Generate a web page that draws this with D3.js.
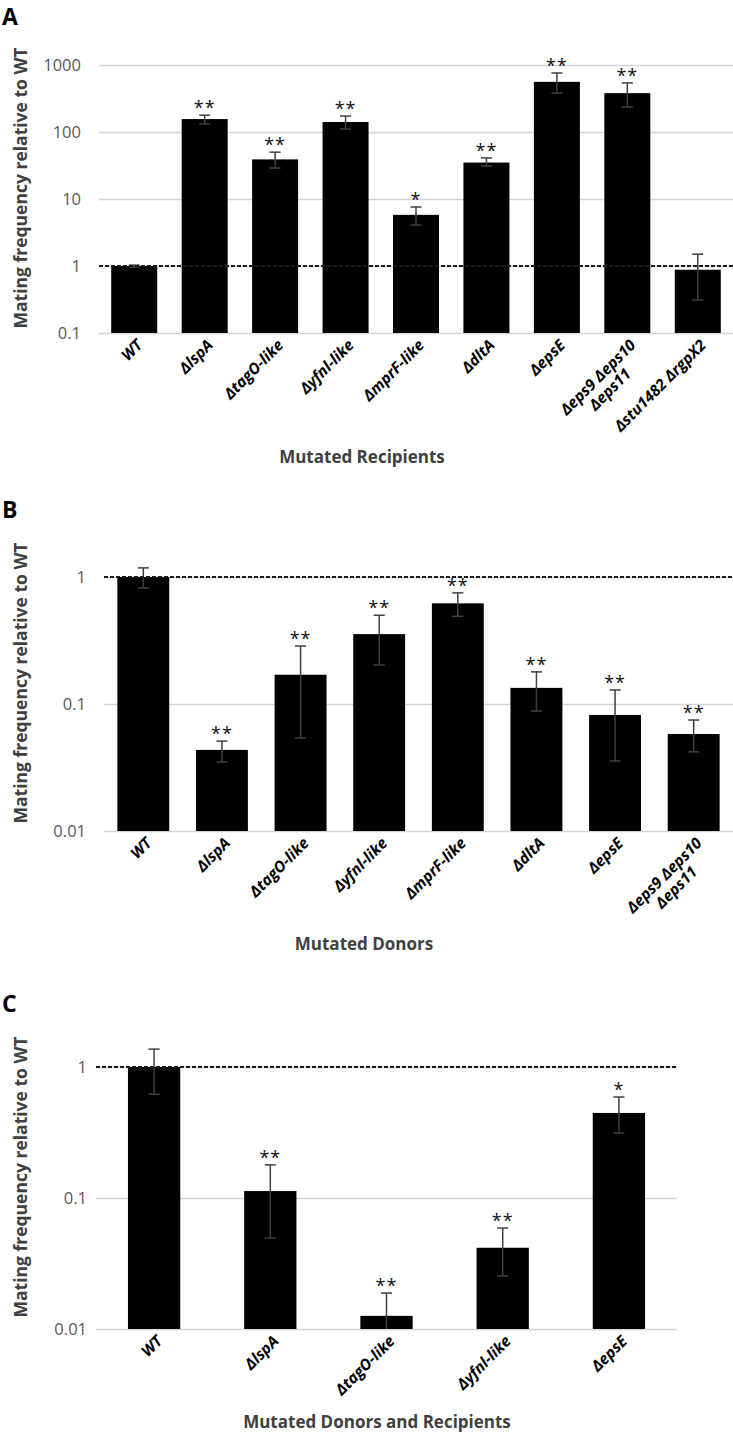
<!DOCTYPE html>
<html>
<head>
<meta charset="utf-8">
<script src="https://cdn.jsdelivr.net/npm/d3@7"></script>
<style>
  body { margin: 0; background: #fff; }
  svg { display: block; font-family: "Open Sans", sans-serif; }
</style>
</head>
<body>
<svg id="chart" width="733" height="1434"></svg>
<script>
// panel A - mutated recipients
const recipientLabels = ["WT", "ΔlspA", "ΔtagO-like", "Δyfnl-like", "ΔmprF-like", "ΔdltA", "ΔepsE", "Δeps9 Δeps10\nΔeps11", "Δstu1482 ΔrgpX2"];
const recipientValues = [1, 156, 39, 141, 5.8, 35, 560, 380, 0.88];
const recipientLow = [0.96, 132, 29, 111, 4.1, 31, 380, 236, 0.31];
const recipientHigh = [1.03, 178, 50, 173, 7.6, 41, 760, 540, 1.5];
const recipientStars = ["", "**", "**", "**", "*", "**", "**", "**", ""];
const recipientTicks = [0.1, 1, 10, 100, 1000];

// panel B - mutated donors
const donorLabels = ["WT", "ΔlspA", "ΔtagO-like", "Δyfnl-like", "ΔmprF-like", "ΔdltA", "ΔepsE", "Δeps9 Δeps10\nΔeps11"];
const donorValues = [1, 0.0435, 0.17, 0.355, 0.62, 0.134, 0.082, 0.058];
const donorLow = [0.82, 0.035, 0.054, 0.203, 0.49, 0.088, 0.0356, 0.042];
const donorHigh = [1.18, 0.051, 0.286, 0.50, 0.75, 0.179, 0.129, 0.0748];
const donorStars = ["", "**", "**", "**", "**", "**", "**", "**"];
const donorTicks = [0.01, 0.1, 1];

// panel C - mutated donors and recipients
const bothLabels = ["WT", "ΔlspA", "ΔtagO-like", "Δyfnl-like", "ΔepsE"];
const bothValues = [1, 0.113, 0.0126, 0.0417, 0.446];
const bothLow = [0.62, 0.0495, 0.006, 0.0254, 0.313];
const bothHigh = [1.37, 0.179, 0.0188, 0.059, 0.59];
const bothStars = ["", "**", "**", "**", "*"];
const bothTicks = [0.01, 0.1, 1];

const svg = d3.select("#chart");

function drawPanel(p) {
    const g = svg.append("g");

    const x = d3.scaleBand()
        .domain(p.labels)
        .range([p.left, p.right])
        .paddingInner(p.pad)
        .paddingOuter(p.pad / 2);

    const y = d3.scaleLog()
        .domain(p.domain)
        .range([p.bottom, p.top]);

    // gridlines
    g.append("g")
        .attr("transform", `translate(${p.left},0)`)
        .call(d3.axisLeft(y).tickValues(p.ticks).tickSize(-(p.right - p.left)).tickFormat(""))
        .call(a => a.select(".domain").remove())
        .call(a => a.selectAll("line").attr("stroke", "#d4d4d4").attr("stroke-width", 1.5));

    // tick labels
    g.append("g")
        .attr("transform", `translate(${p.tickEnd},0)`)
        .call(d3.axisLeft(y).tickValues(p.ticks).tickSize(0).tickPadding(0).tickFormat(d => String(d)))
        .call(a => a.select(".domain").remove())
        .call(a => a.selectAll("text")
            .attr("font-family", "'Open Sans', sans-serif")
            .attr("font-size", 16.5)
            .attr("fill", "#595959"));

    const data = p.labels.map((l, i) => ({
        label: l, v: p.values[i], lo: p.low[i], hi: p.high[i], star: p.stars[i]
    }));
    const yMin = p.domain[0];

    g.append("g").selectAll("rect")
        .data(data)
        .enter().append("rect")
            .attr("x", d => x(d.label))
            .attr("width", x.bandwidth())
            .attr("y", d => y(d.v))
            .attr("height", d => p.bottom - y(d.v))
            .attr("fill", "#000");

    // error bars
    const cap = 5.5;
    const err = g.append("g").attr("stroke", "#404040").attr("stroke-width", 1.5);
    data.forEach(d => {
        const cx = x(d.label) + x.bandwidth() / 2;
        const yHi = y(d.hi);
        const yLo = y(Math.max(d.lo, yMin));
        err.append("line").attr("x1", cx).attr("x2", cx).attr("y1", yHi).attr("y2", yLo);
        err.append("line").attr("x1", cx - cap).attr("x2", cx + cap).attr("y1", yHi).attr("y2", yHi);
        if (d.lo >= yMin) {
            err.append("line").attr("x1", cx - cap).attr("x2", cx + cap).attr("y1", yLo).attr("y2", yLo);
        }
    });

    // reference line at 1
    g.append("line")
        .attr("x1", p.left).attr("x2", p.right)
        .attr("y1", y(1)).attr("y2", y(1))
        .attr("stroke", "#1a1a1a")
        .attr("stroke-width", 2)
        .attr("stroke-dasharray", "4,2");

    // significance stars
    g.append("g").selectAll("text")
        .data(data.filter(d => d.star))
        .enter().append("text")
            .attr("x", d => x(d.label) + x.bandwidth() / 2)
            .attr("y", d => y(d.hi) - 1)
            .attr("text-anchor", "middle")
            .attr("font-size", 18)
            .attr("letter-spacing", 1)
            .attr("fill", "#111")
            .text(d => d.star);

    // category labels, rotated -45
    const labelG = g.append("g");
    data.forEach(d => {
        const cx = x(d.label) + x.bandwidth() / 2;
        const lines = d.label.split("\n");
        const texts = lines.map((line, i) => labelG.append("text")
            .attr("transform", `translate(${cx + 1},${p.bottom + 5}) rotate(-45)`)
            .attr("x", 0)
            .attr("y", 0)
            .attr("dy", (0.75 + i * 1.1) + "em")
            .attr("font-size", 15.5)
            .attr("font-weight", "bold")
            .attr("font-style", "italic")
            .attr("fill", "#000")
            .text(line));
        if (lines.length > 1) {
            const maxLen = d3.max(texts, s => s.node().getComputedTextLength());
            texts.forEach(s => s.attr("text-anchor", "middle").attr("x", -maxLen / 2));
        } else {
            texts[0].attr("text-anchor", "end");
        }
    });

    // axis titles
    g.append("text")
        .attr("x", p.titleX).attr("y", p.titleY)
        .attr("text-anchor", "middle")
        .attr("dominant-baseline", "middle")
        .attr("font-size", 17)
        .attr("font-weight", "bold")
        .attr("fill", "#404040")
        .text(p.title);

    g.append("text")
        .attr("transform", `translate(22,${p.yTitleY}) rotate(-90)`)
        .attr("text-anchor", "middle")
        .attr("dominant-baseline", "middle")
        .attr("font-size", 17.5)
        .attr("font-weight", "bold")
        .attr("fill", "#404040")
        .text("Mating frequency relative to WT");

    g.append("text")
        .attr("x", 2).attr("y", p.letterY)
        .attr("font-size", 23)
        .attr("font-weight", "bold")
        .attr("fill", "#000")
        .text(p.letter);
}

drawPanel({
    letter: "A", letterY: 25,
    labels: recipientLabels, values: recipientValues, low: recipientLow, high: recipientHigh,
    stars: recipientStars, ticks: recipientTicks, domain: [0.1, 1000],
    left: 99, right: 733, top: 65, bottom: 333, pad: 0.347, tickEnd: 81,
    title: "Mutated Recipients", titleX: 362, titleY: 458, yTitleY: 188
});

drawPanel({
    letter: "B", letterY: 518,
    labels: donorLabels, values: donorValues, low: donorLow, high: donorHigh,
    stars: donorStars, ticks: donorTicks, domain: [0.01, 1],
    left: 104, right: 733, top: 577, bottom: 831, pad: 0.34, tickEnd: 86,
    title: "Mutated Donors", titleX: 364, titleY: 945, yTitleY: 683
});

drawPanel({
    letter: "C", letterY: 1012,
    labels: bothLabels, values: bothValues, low: bothLow, high: bothHigh,
    stars: bothStars, ticks: bothTicks, domain: [0.01, 1],
    left: 96, right: 677, top: 1067, bottom: 1329, pad: 0.55, tickEnd: 87,
    title: "Mutated Donors and Recipients", titleX: 377, titleY: 1423, yTitleY: 1177
});
</script>
</body>
</html>
